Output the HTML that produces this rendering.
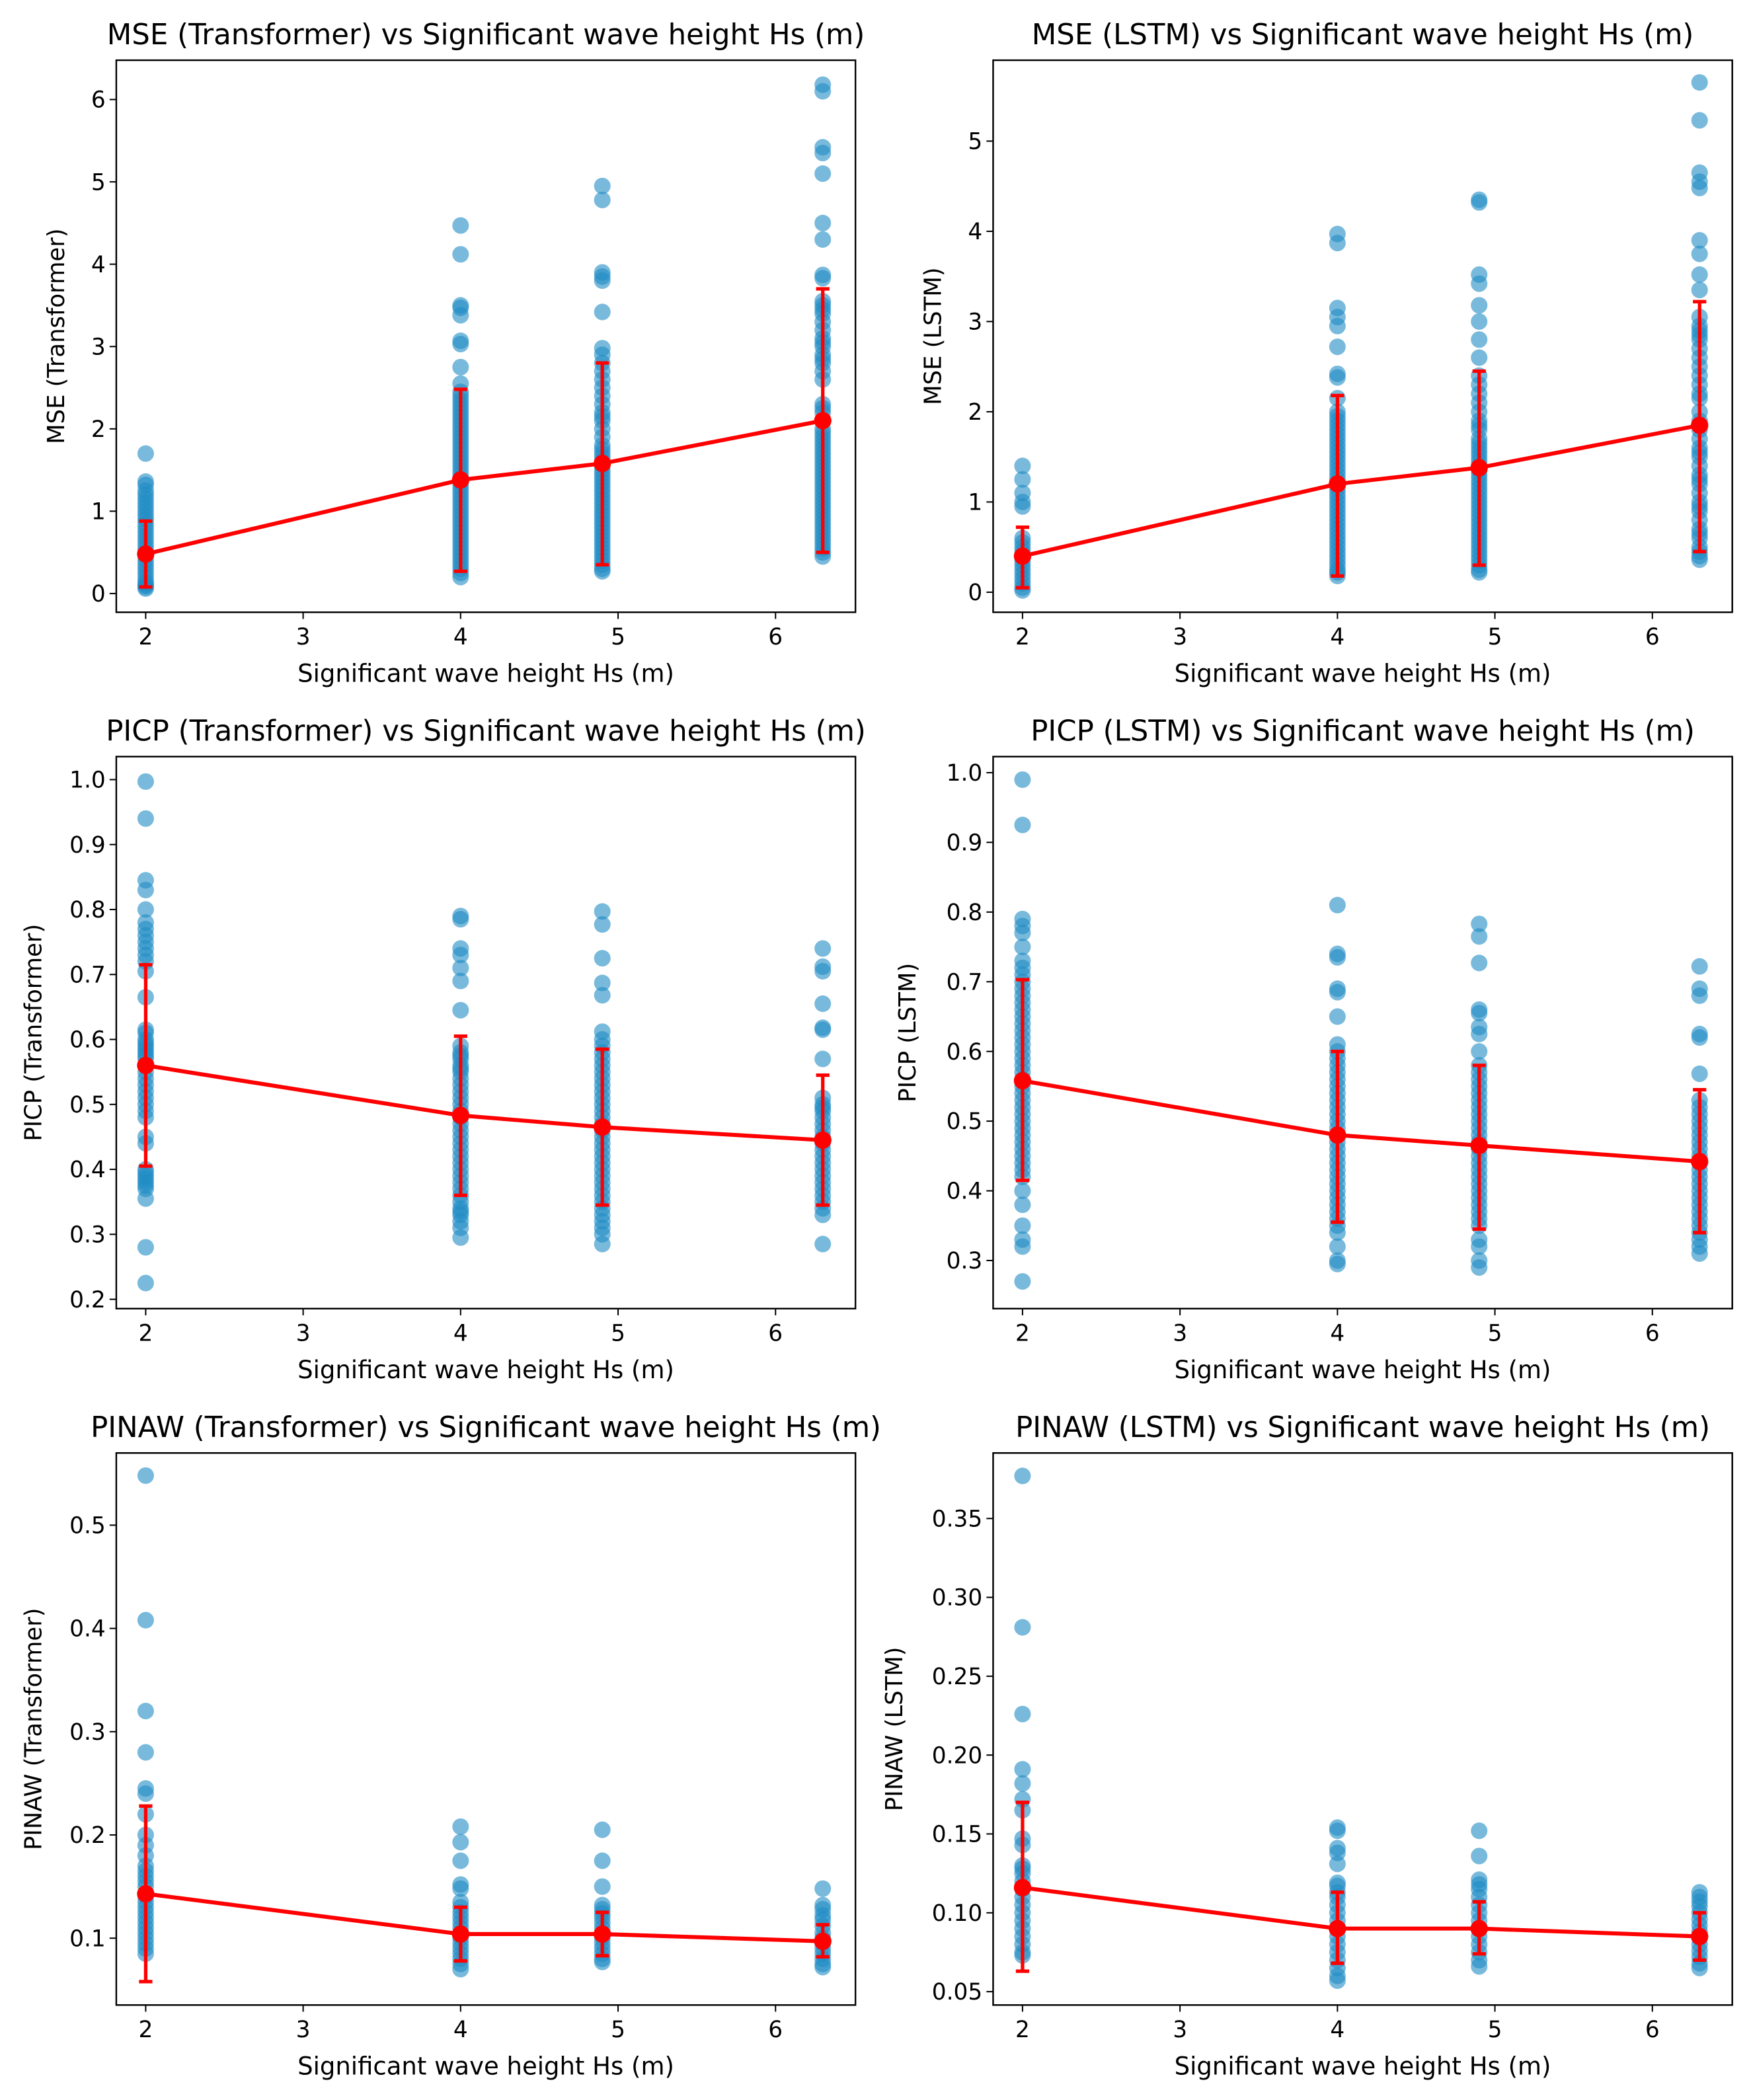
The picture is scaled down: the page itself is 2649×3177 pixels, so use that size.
<!DOCTYPE html>
<html><head><meta charset="utf-8">
<style>
html,body{margin:0;padding:0;background:#fff;}
svg{display:block;}
text{font-family:"DejaVu Sans","Liberation Sans",sans-serif;fill:#000;}
</style></head>
<body>
<svg id="fig" width="2649" height="3177" viewBox="0 0 1310 1571" xmlns="http://www.w3.org/2000/svg"></svg>
<script>
// ---- shared data ----
const xCats = [2, 4, 4.9, 6.3];
const xTicks = [2, 3, 4, 5, 6];

// MSE Transformer
const mseT_2 = [1.7,1.36,1.32,1.25,1.2,1.15,1.1,1.05,1.0,0.95,0.9,0.85,0.8,0.75,0.7,0.65,0.6,0.55,0.5,0.45,0.4,0.35,0.3,0.25,0.2,0.15,0.12,0.1,0.08,0.06];
const mseT_4 = [4.47,4.12,3.5,3.47,3.38,3.07,3.03,2.75,2.55,2.45,2.4,2.35,2.3,2.25,2.2,2.15,2.1,2.05,2.0,1.95,1.9,1.85,1.8,1.75,1.7,1.65,1.6,1.55,1.5,1.45,1.4,1.35,1.3,1.25,1.2,1.15,1.1,1.05,1.0,0.95,0.9,0.85,0.8,0.75,0.7,0.65,0.6,0.55,0.5,0.45,0.4,0.35,0.3,0.25,0.2];
const mseT_49 = [4.95,4.78,3.9,3.85,3.8,3.42,2.98,2.9,2.8,2.7,2.6,2.5,2.4,2.3,2.2,2.15,2.1,2.0,1.9,1.8,1.75,1.7,1.65,1.6,1.55,1.5,1.45,1.4,1.35,1.3,1.25,1.2,1.15,1.1,1.05,1.0,0.95,0.9,0.85,0.8,0.75,0.7,0.65,0.6,0.55,0.5,0.45,0.4,0.35,0.3,0.27];
const mseT_63 = [6.18,6.1,5.42,5.35,5.1,4.5,4.3,3.87,3.83,3.55,3.5,3.45,3.4,3.3,3.2,3.1,3.05,3.0,2.9,2.85,2.8,2.7,2.6,2.3,2.25,2.2,2.1,2.0,1.95,1.9,1.85,1.8,1.75,1.7,1.65,1.6,1.55,1.5,1.45,1.4,1.35,1.3,1.25,1.2,1.15,1.1,1.05,1.0,0.95,0.9,0.85,0.8,0.75,0.7,0.65,0.6,0.55,0.5,0.45];
const mseT_mean = [0.48,1.38,1.58,2.1];
const mseT_lo = [0.08,0.27,0.35,0.5];
const mseT_hi = [0.88,2.48,2.8,3.7];

// MSE LSTM
const mseL_2 = [1.4,1.25,1.1,1.0,0.95,0.6,0.55,0.5,0.45,0.4,0.35,0.3,0.25,0.2,0.15,0.1,0.05,0.02];
const mseL_4 = [3.97,3.87,3.15,3.05,2.95,2.72,2.42,2.38,2.15,2.0,1.95,1.9,1.85,1.8,1.75,1.7,1.65,1.6,1.55,1.5,1.45,1.4,1.35,1.3,1.25,1.2,1.15,1.1,1.05,1.0,0.95,0.9,0.85,0.8,0.75,0.7,0.65,0.6,0.55,0.5,0.45,0.4,0.35,0.3,0.25,0.22,0.18];
const mseL_49 = [4.35,4.32,3.52,3.42,3.18,3.0,2.8,2.6,2.4,2.3,2.2,2.1,2.0,1.9,1.85,1.8,1.7,1.65,1.6,1.55,1.5,1.45,1.4,1.35,1.3,1.25,1.2,1.15,1.1,1.05,1.0,0.95,0.9,0.85,0.8,0.75,0.7,0.65,0.6,0.55,0.5,0.45,0.4,0.35,0.3,0.25,0.22];
const mseL_63 = [5.65,5.23,4.65,4.55,4.48,3.9,3.75,3.52,3.35,3.05,2.95,2.9,2.85,2.8,2.7,2.6,2.5,2.4,2.3,2.2,2.15,2.0,1.9,1.85,1.8,1.7,1.6,1.55,1.5,1.4,1.3,1.25,1.2,1.1,1.0,0.95,0.9,0.8,0.7,0.65,0.6,0.5,0.45,0.4,0.36];
const mseL_mean = [0.4,1.2,1.38,1.85];
const mseL_lo = [0.05,0.18,0.3,0.45];
const mseL_hi = [0.72,2.18,2.45,3.22];

// PICP Transformer
const picpT_2 = [0.997,0.94,0.845,0.83,0.8,0.78,0.77,0.76,0.75,0.74,0.73,0.72,0.705,0.665,0.615,0.61,0.6,0.595,0.59,0.585,0.58,0.575,0.57,0.56,0.55,0.54,0.53,0.52,0.51,0.5,0.49,0.48,0.45,0.44,0.4,0.395,0.39,0.385,0.38,0.375,0.37,0.355,0.28,0.225];
const picpT_4 = [0.79,0.785,0.74,0.73,0.71,0.69,0.645,0.59,0.58,0.575,0.57,0.56,0.555,0.55,0.54,0.53,0.52,0.51,0.5,0.49,0.48,0.47,0.46,0.45,0.44,0.43,0.42,0.41,0.4,0.39,0.38,0.37,0.36,0.35,0.34,0.335,0.33,0.32,0.31,0.295];
const picpT_49 = [0.797,0.777,0.725,0.687,0.668,0.612,0.6,0.59,0.58,0.57,0.56,0.55,0.54,0.53,0.52,0.51,0.5,0.49,0.48,0.47,0.46,0.45,0.44,0.43,0.42,0.41,0.4,0.39,0.38,0.37,0.36,0.35,0.34,0.33,0.32,0.31,0.3,0.285];
const picpT_63 = [0.74,0.712,0.705,0.655,0.618,0.615,0.57,0.51,0.5,0.495,0.49,0.48,0.47,0.46,0.45,0.44,0.43,0.42,0.41,0.4,0.39,0.38,0.37,0.36,0.35,0.34,0.33,0.285];
const picpT_mean = [0.56,0.483,0.465,0.445];
const picpT_lo = [0.405,0.36,0.345,0.345];
const picpT_hi = [0.715,0.605,0.585,0.545];

// PICP LSTM
const picpL_2 = [0.99,0.925,0.79,0.78,0.77,0.75,0.73,0.72,0.71,0.7,0.69,0.68,0.67,0.66,0.65,0.64,0.63,0.62,0.61,0.6,0.59,0.58,0.57,0.56,0.55,0.54,0.53,0.52,0.51,0.5,0.49,0.48,0.47,0.46,0.45,0.44,0.43,0.42,0.4,0.38,0.35,0.33,0.32,0.27];
const picpL_4 = [0.81,0.74,0.735,0.69,0.685,0.65,0.61,0.6,0.59,0.58,0.57,0.56,0.55,0.54,0.53,0.52,0.51,0.5,0.49,0.48,0.47,0.46,0.45,0.44,0.43,0.42,0.41,0.4,0.39,0.38,0.37,0.36,0.35,0.34,0.32,0.3,0.295];
const picpL_49 = [0.783,0.765,0.727,0.66,0.655,0.635,0.625,0.6,0.58,0.57,0.56,0.55,0.54,0.53,0.52,0.51,0.5,0.49,0.48,0.47,0.46,0.45,0.44,0.43,0.42,0.41,0.4,0.39,0.38,0.37,0.36,0.35,0.33,0.32,0.3,0.29];
const picpL_63 = [0.722,0.69,0.68,0.625,0.62,0.568,0.53,0.52,0.51,0.5,0.49,0.48,0.47,0.46,0.45,0.44,0.43,0.42,0.41,0.4,0.39,0.38,0.37,0.36,0.35,0.34,0.33,0.32,0.31];
const picpL_mean = [0.558,0.48,0.465,0.442];
const picpL_lo = [0.415,0.355,0.345,0.34];
const picpL_hi = [0.703,0.6,0.58,0.545];

// PINAW Transformer
const pinT_2 = [0.548,0.408,0.32,0.28,0.245,0.24,0.22,0.2,0.19,0.18,0.17,0.165,0.16,0.155,0.15,0.14,0.135,0.13,0.125,0.12,0.115,0.11,0.105,0.1,0.095,0.09,0.085];
const pinT_4 = [0.208,0.193,0.175,0.152,0.148,0.135,0.13,0.125,0.12,0.115,0.11,0.105,0.1,0.095,0.09,0.085,0.08,0.075,0.07];
const pinT_49 = [0.205,0.175,0.15,0.132,0.128,0.124,0.12,0.115,0.11,0.105,0.1,0.095,0.09,0.085,0.08,0.077];
const pinT_63 = [0.148,0.132,0.128,0.122,0.118,0.112,0.105,0.1,0.095,0.09,0.085,0.08,0.075,0.072];
const pinT_mean = [0.143,0.104,0.104,0.097];
const pinT_lo = [0.058,0.078,0.083,0.082];
const pinT_hi = [0.228,0.13,0.125,0.113];

// PINAW LSTM
const pinL_2 = [0.377,0.281,0.226,0.191,0.182,0.172,0.165,0.147,0.143,0.13,0.128,0.125,0.12,0.115,0.11,0.105,0.1,0.095,0.09,0.085,0.08,0.075,0.073];
const pinL_4 = [0.154,0.152,0.141,0.138,0.131,0.119,0.117,0.113,0.11,0.105,0.1,0.095,0.09,0.085,0.08,0.075,0.07,0.065,0.06,0.057];
const pinL_49 = [0.152,0.136,0.121,0.118,0.115,0.11,0.105,0.1,0.095,0.09,0.085,0.08,0.075,0.07,0.066];
const pinL_63 = [0.113,0.11,0.107,0.104,0.1,0.096,0.092,0.088,0.084,0.08,0.076,0.072,0.068,0.065];
const pinL_mean = [0.116,0.09,0.09,0.085];
const pinL_lo = [0.063,0.068,0.074,0.07];
const pinL_hi = [0.17,0.113,0.107,0.1];

const mseTTicks = [0,1,2,3,4,5,6];
const mseLTicks = [0,1,2,3,4,5];
const picpTTicks = [0.2,0.3,0.4,0.5,0.6,0.7,0.8,0.9,1.0];
const picpLTicks = [0.3,0.4,0.5,0.6,0.7,0.8,0.9,1.0];
const pinTTicks = [0.1,0.2,0.3,0.4,0.5];
const pinLTicks = [0.05,0.10,0.15,0.20,0.25,0.30,0.35];

const NS = "http://www.w3.org/2000/svg";
const fig = document.getElementById('fig');
function mk(tag, attrs, parent){
  const e = document.createElementNS(NS, tag);
  for (const k in attrs) e.setAttribute(k, attrs[k]);
  (parent||fig).appendChild(e);
  return e;
}

function panel(cfg){
  const g = mk('g', {});
  
  
  const L = cfg.left, R = cfg.left + 553, T = cfg.top, B = cfg.top + 413;
  const xs = v => cfg.left + 22 + (v - 2) * 117.8;
  const ys = v => cfg.y0px + (v - cfg.y0) * cfg.ppu;
  const sg = mk('g', {}, g);
  
  
  cfg.cols.forEach((col, i) => {
    col.forEach(v => {
      const c = mk('circle', {cx: xs(xCats[i]), cy: ys(v), r: 6.2, fill: '#1f8cc4', 'fill-opacity': 0.6}, sg);
      
      
    });
  });
  xCats.forEach((x, i) => {
    const eb = mk('g', {stroke: '#ff0000', 'stroke-width': 2.6}, g);
    
    
    mk('line', {x1: xs(x), x2: xs(x), y1: ys(cfg.lo[i]), y2: ys(cfg.hi[i])}, eb);
    mk('line', {x1: xs(x)-5, x2: xs(x)+5, y1: ys(cfg.lo[i]), y2: ys(cfg.lo[i])}, eb);
    mk('line', {x1: xs(x)-5, x2: xs(x)+5, y1: ys(cfg.hi[i]), y2: ys(cfg.hi[i])}, eb);
  });
  const pts = xCats.map((x, i) => xs(x) + ',' + ys(cfg.mean[i])).join(' ');
  const ln = mk('polyline', {points: pts, fill: 'none', stroke: '#ff0000', 'stroke-width': 3}, g);
  
  
  xCats.forEach((x, i) => {
    const m = mk('circle', {cx: xs(x), cy: ys(cfg.mean[i]), r: 6.5, fill: '#ff0000'}, g);
    
    
  });
  const fr = mk('rect', {x: L, y: T, width: R - L, height: B - T, fill: 'none', stroke: '#000', 'stroke-width': 1.2}, g);
  
  
  xTicks.forEach(t => {
    mk('line', {x1: xs(t), x2: xs(t), y1: B, y2: B + 5, stroke: '#000', 'stroke-width': 1}, g);
    const tx = mk('text', {x: xs(t), y: B + 24, 'text-anchor': 'middle', 'font-size': 17}, g);
    tx.textContent = t;
    
    
  });
  cfg.yTicks.forEach(t => {
    mk('line', {x1: L - 5, x2: L, y1: ys(t), y2: ys(t), stroke: '#000', 'stroke-width': 1}, g);
    const ty = mk('text', {x: L - 8, y: ys(t) + 6, 'text-anchor': 'end', 'font-size': 17}, g);
    ty.textContent = t.toFixed(cfg.dec);
    
    
  });
  const tt = mk('text', {x: (L + R) / 2, y: T - 12, 'text-anchor': 'middle', 'font-size': 21.5}, g);
  tt.textContent = cfg.title;
  
  
  const xl = mk('text', {x: (L + R) / 2, y: B + 52, 'text-anchor': 'middle', 'font-size': 18.3}, g);
  xl.textContent = 'Significant wave height Hs (m)';
  
  
  const yx = cfg.ylx, yy = (T + B) / 2;
  const yl = mk('text', {x: yx, y: yy, 'text-anchor': 'middle', 'font-size': 17.5, transform: `rotate(-90 ${yx} ${yy})`}, g);
  yl.textContent = cfg.ylabel;
  
  
}

panel({name:'mse-transformer-panel', left:87, top:45, y0:0, y0px:444, ppu:-61.6, dec:0, yTicks:mseTTicks,
  cols:[mseT_2,mseT_4,mseT_49,mseT_63], mean:mseT_mean, lo:mseT_lo, hi:mseT_hi,
  title:'MSE (Transformer) vs Significant wave height Hs (m)', ylabel:'MSE (Transformer)', ylx:48});
panel({name:'mse-lstm-panel', left:743, top:45, y0:0, y0px:443, ppu:-67.5, dec:0, yTicks:mseLTicks,
  cols:[mseL_2,mseL_4,mseL_49,mseL_63], mean:mseL_mean, lo:mseL_lo, hi:mseL_hi,
  title:'MSE (LSTM) vs Significant wave height Hs (m)', ylabel:'MSE (LSTM)', ylx:704});
panel({name:'picp-transformer-panel', left:87, top:566, y0:0.2, y0px:972, ppu:-486, dec:1, yTicks:picpTTicks,
  cols:[picpT_2,picpT_4,picpT_49,picpT_63], mean:picpT_mean, lo:picpT_lo, hi:picpT_hi,
  title:'PICP (Transformer) vs Significant wave height Hs (m)', ylabel:'PICP (Transformer)', ylx:31});
panel({name:'picp-lstm-panel', left:743, top:566, y0:0.3, y0px:943, ppu:-521.4, dec:1, yTicks:picpLTicks,
  cols:[picpL_2,picpL_4,picpL_49,picpL_63], mean:picpL_mean, lo:picpL_lo, hi:picpL_hi,
  title:'PICP (LSTM) vs Significant wave height Hs (m)', ylabel:'PICP (LSTM)', ylx:685});
panel({name:'pinaw-transformer-panel', left:87, top:1087, y0:0.1, y0px:1450, ppu:-772.5, dec:1, yTicks:pinTTicks,
  cols:[pinT_2,pinT_4,pinT_49,pinT_63], mean:pinT_mean, lo:pinT_lo, hi:pinT_hi,
  title:'PINAW (Transformer) vs Significant wave height Hs (m)', ylabel:'PINAW (Transformer)', ylx:31});
panel({name:'pinaw-lstm-panel', left:743, top:1087, y0:0.05, y0px:1490, ppu:-1180, dec:2, yTicks:pinLTicks,
  cols:[pinL_2,pinL_4,pinL_49,pinL_63], mean:pinL_mean, lo:pinL_lo, hi:pinL_hi,
  title:'PINAW (LSTM) vs Significant wave height Hs (m)', ylabel:'PINAW (LSTM)', ylx:675});
</script>
</body></html>
